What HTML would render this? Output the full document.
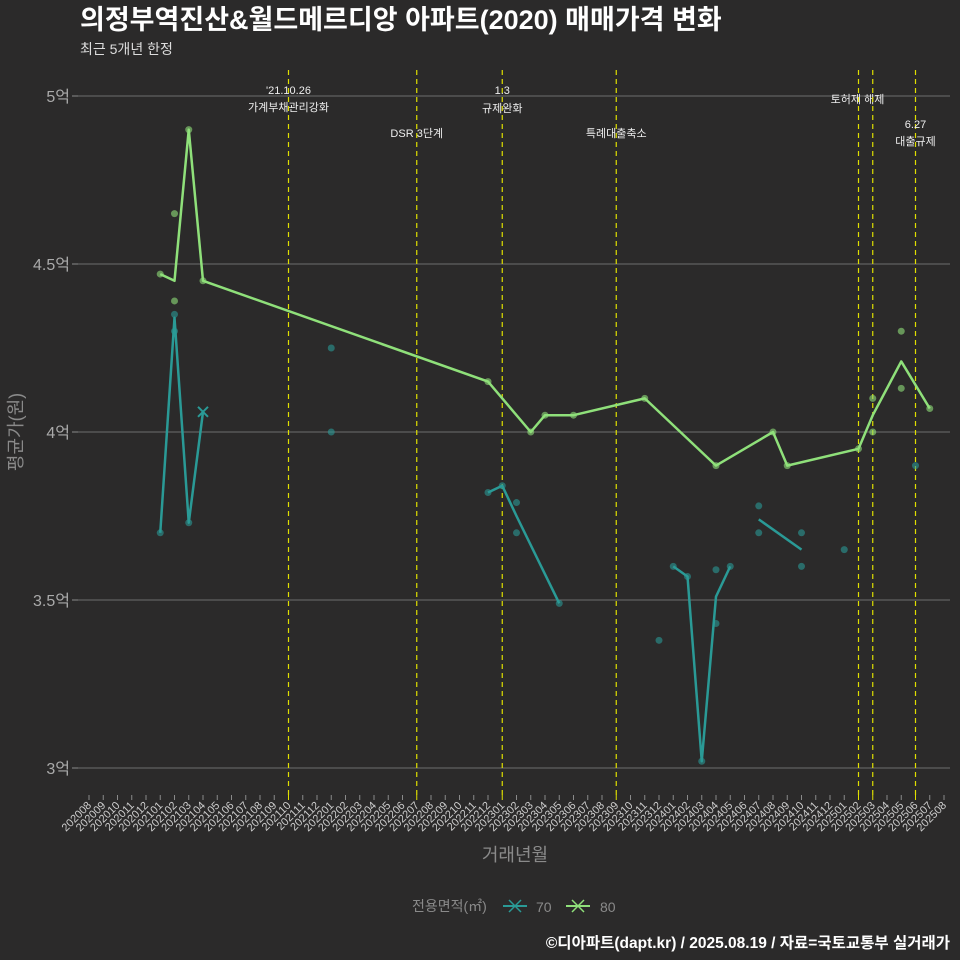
<!DOCTYPE html>
<html><head><meta charset="utf-8"><style>
body{margin:0;background:#2b2a2a;}
svg{display:block;font-family:"Liberation Sans","Noto Sans CJK KR",sans-serif;}
</style></head><body>
<svg id="c" width="960" height="960" xmlns="http://www.w3.org/2000/svg">
<rect width="960" height="960" fill="#2b2a2a"/>
<text x="80" y="29" font-size="27" font-weight="bold" fill="#ffffff">의정부역진산&amp;월드메르디앙 아파트(2020) 매매가격 변화</text>
<text x="80" y="54" font-size="14" fill="#dddddd">최근 5개년 한정</text>
<text transform="translate(22,432) rotate(-90)" text-anchor="middle" font-size="18" fill="#8a8a8a">평균가(원)</text>
<text x="515" y="861" text-anchor="middle" font-size="18" fill="#8a8a8a">거래년월</text>
<g>
<text x="412" y="911" font-size="14" fill="#8a8a8a">전용면적(㎡)</text>
<g><line x1="503" y1="906" x2="527" y2="906" stroke="#2a9a96" stroke-width="2"/><path d="M509 900 L521 912 M521 900 L509 912" stroke="#2a9a96" stroke-width="1.5"/><text x="536" y="912" font-size="14" fill="#8a8a8a">70</text></g>
<g><line x1="566" y1="906" x2="590" y2="906" stroke="#8fe07a" stroke-width="2"/><path d="M572 900 L584 912 M584 900 L572 912" stroke="#8fe07a" stroke-width="1.5"/><text x="600" y="912" font-size="14" fill="#8a8a8a">80</text></g>
</g>
<text x="950" y="948" text-anchor="end" font-size="15.5" font-weight="bold" fill="#ffffff">©디아파트(dapt.kr) / 2025.08.19 / 자료=국토교통부 실거래가</text>
<g id="plot"></g>
</svg>
<script>
const yTicks=[3,3.5,4,4.5,5];
const yTickLabels=["3억","3.5억","4억","4.5억","5억"];
const events=["202110","202207","202301","202309","202502","202503","202506"];
const eventLabels=[["'21.10.26","가계부채관리강화"],["DSR 3단계"],["1.3","규제완화"],["특례대출축소"],["토허제 해제"],[],["6.27","대출규제"]];
const line80Months=["202101","202102","202103","202104","202212","202303","202304","202306","202311","202404","202408","202409","202502","202503","202505","202507"];
const line80Values=[4.47,4.45,4.90,4.45,4.15,4.00,4.05,4.05,4.10,3.90,4.00,3.90,3.95,4.05,4.21,4.07];
const line70Months=["202101","202102","202103","202104",null,"202212","202301","202302","202305",null,"202401","202402","202403","202404","202405",null,"202407","202410"];
const line70Values=[3.70,4.34,3.73,4.06,null,3.82,3.84,3.75,3.49,null,3.60,3.57,3.02,3.51,3.60,null,3.74,3.65];
const dots70Months=["202101","202102","202102","202103","202201","202201","202212","202301","202302","202302","202305","202312","202401","202402","202403","202404","202404","202405","202407","202407","202410","202410","202501","202506"];
const dots70Values=[3.70,4.35,4.30,3.73,4.25,4.00,3.82,3.84,3.79,3.70,3.49,3.38,3.60,3.57,3.02,3.59,3.43,3.60,3.78,3.70,3.70,3.60,3.65,3.90];
const dots80Months=["202101","202102","202102","202103","202104","202212","202303","202304","202306","202311","202404","202408","202409","202502","202503","202503","202505","202505","202507"];
const dots80Values=[4.47,4.65,4.39,4.90,4.45,4.15,4.00,4.05,4.05,4.10,3.90,4.00,3.90,3.95,4.10,4.00,4.30,4.13,4.07];
const xMarker70=["202104",4.06];

const months=[];
for(let y=2020,m=8;!(y===2025&&m===9);){months.push(y+String(m).padStart(2,"0"));m++;if(m>12){m=1;y++;}}
const X=mo=>89+months.indexOf(mo)*14.25;
const Y=v=>768-(v-3)*336;
const NS="http://www.w3.org/2000/svg";
const plot=document.getElementById("plot");
function mk(tag,attrs,parent){const e=document.createElementNS(NS,tag);for(const k in attrs)e.setAttribute(k,attrs[k]);(parent||plot).appendChild(e);return e;}
const C70="#2a9a96",C80="#8fe07a";
yTicks.forEach((t,i)=>{
  const g=mk("line",{x1:78,x2:950,y1:Y(t),y2:Y(t),stroke:"#6e6e6e","stroke-width":1});
  
  
  mk("line",{x1:72,x2:78,y1:Y(t),y2:Y(t),stroke:"#8a8a8a"});
  const tx=mk("text",{x:70,y:Y(t)+6,"text-anchor":"end","font-size":16,fill:"#aaaaaa"});
  tx.textContent=yTickLabels[i];
  
  
});
months.forEach(mo=>{
  const x=X(mo);
  mk("line",{x1:x,x2:x,y1:795,y2:800,stroke:events.includes(mo)?"#e0e000":"#8a8a8a"});
  const tx=mk("text",{transform:`translate(${x+3},806) rotate(-45)`,"text-anchor":"end","font-size":11,fill:"#cccccc"});
  tx.textContent=mo;
  
  
});
const labYs=[[90,107],[133],[90,108],[133],[99],[],[124,141]];
events.forEach((mo,i)=>{
  const x=X(mo);
  const l=mk("line",{x1:x,x2:x,y1:70,y2:795,stroke:"#e0e000","stroke-width":1.2,"stroke-dasharray":"5,4"});
  
  
  const lines=eventLabels[i]||[];
  lines.forEach((s,j)=>{
    const t=mk("text",{x:i===4?x-1:x,y:labYs[i][j]+4,"text-anchor":"middle","font-size":11,fill:"#eeeeee"});
    t.textContent=s;
    
    
  });
});
function dots(ms,vs,col,name){ms.forEach((m,i)=>{const c=mk("circle",{cx:X(m),cy:Y(vs[i]),r:3.5,fill:col,"fill-opacity":0.6});});}
dots(dots70Months,dots70Values,C70,"point-70");
dots(dots80Months,dots80Values,C80,"point-80");
function lines(ms,vs,col,name){let d="",pen=false;ms.forEach((m,i)=>{if(m===null){pen=false;return;}d+=(pen?"L":"M")+X(m)+" "+Y(vs[i])+" ";pen=true;});const p=mk("path",{d,fill:"none",stroke:col,"stroke-width":2.5,"stroke-linejoin":"round"});}
lines(line70Months,line70Values,C70,"line-70");
lines(line80Months,line80Values,C80,"line-80");
const xm=mk("path",{d:`M${X(xMarker70[0])-5} ${Y(xMarker70[1])-5} L${X(xMarker70[0])+5} ${Y(xMarker70[1])+5} M${X(xMarker70[0])+5} ${Y(xMarker70[1])-5} L${X(xMarker70[0])-5} ${Y(xMarker70[1])+5}`,stroke:C70,"stroke-width":2});


</script>
</body></html>
